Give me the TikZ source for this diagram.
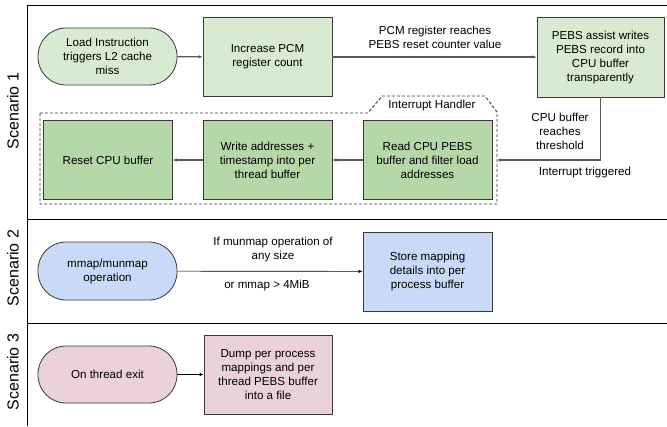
\documentclass[tikz,border=0pt]{standalone}
\usepackage{fontspec}
\setmainfont{Liberation Sans}
\usetikzlibrary{arrows.meta,calc}
\definecolor{lgreen}{HTML}{D9EAD3}
\definecolor{dgreen}{HTML}{B6D7A8}
\definecolor{lblue}{HTML}{C9DAF8}
\definecolor{lpink}{HTML}{EAD1DC}
\definecolor{edge}{HTML}{3A3A3A}
\definecolor{conn}{HTML}{595959}
\begin{document}
\begin{tikzpicture}[x=1pt,y=-1pt,
  every node/.style={font=\fontsize{11.6}{14}\selectfont, align=center, inner sep=0pt},
  box/.style={draw=edge, line width=0.8pt, rectangle, minimum width=129, minimum height=79},
  stad/.style={draw=edge, line width=0.8pt, rectangle, rounded corners=28, minimum width=139, minimum height=57},
  grayarr/.style={draw=conn, line width=1.2pt, -{Latex[length=4pt,width=3.5pt]}},
  blackarr/.style={draw=black, line width=0.7pt, -{Latex[length=4pt,width=3.5pt]}},
  frame/.style={draw=black, line width=1pt},
  lane/.style={font=\fontsize{16}{18}\selectfont, rotate=90},
  lbl/.style={font=\fontsize{11.6}{14}\selectfont}
]
\useasboundingbox (0,0) rectangle (667,426);
% frame lines
\draw[frame] (27,5) -- (667,5);
\draw[frame] (27,5) -- (27,426);
\draw[frame] (27,219) -- (667,219);
\draw[frame] (27,323) -- (667,323);
% lane labels
\node[lane] (s1) at (13,111) {Scenario 1};
\node[lane] (s2) at (13,268) {Scenario 2};
\node[lane] (s3) at (13,372) {Scenario 3};

% Interrupt handler container
\draw[draw=edge, line width=0.9pt, dash pattern=on 3pt off 2pt]
  (40,113) -- (368,113) -- (382,96) -- (485,96) -- (497,112) -- (497,204) -- (40,204) -- cycle;
\node[lbl] (ihlabel) at (432,105) {Interrupt Handler};
\coordinate (ihR) at (497,160);

% Scenario 1 nodes
\node[stad, fill=lgreen] (load) at (107.5,56.5) {Load Instruction\\triggers L2 cache\\miss};
\node[box, fill=lgreen] (inc) at (267.5,57) {Increase PCM\\register count};
\node[box, fill=lgreen, minimum width=127, minimum height=80] (pebs) at (600.5,57) {PEBS assist writes\\PEBS record into\\CPU buffer\\transparently};
\node[box, fill=dgreen] (read) at (427.5,160) {Read CPU PEBS\\buffer and filter load\\addresses};
\node[box, fill=dgreen] (write) at (267.5,160) {Write addresses +\\timestamp into per\\thread buffer};
\node[box, fill=dgreen] (reset) at (108,160) {Reset CPU buffer};

\draw[grayarr] (load) -- (inc);
\draw[grayarr] (inc) -- (pebs);
\node[lbl] (l1) at (435,37) {PCM register reaches\\PEBS reset counter value};
\draw[grayarr] (pebs.south) |- (ihR);
\node[lbl] (l2) at (560,131) {CPU buffer\\reaches\\threshold};
\node[lbl] (l3) at (585,172) {Interrupt triggered};
\draw[grayarr] (read) -- (write);
\draw[grayarr] (write) -- (reset);

% Scenario 2
\node[stad, fill=lblue, minimum height=58] (mmap) at (107.5,271) {mmap/munmap\\operation};
\node[box, fill=lblue] (store) at (427.5,271.5) {Store mapping\\details into per\\process buffer};
\draw[blackarr] (mmap) -- (store);
\node[lbl] (l4) at (273,249) {If munmap operation of\\any size};
\node[lbl] (l5) at (267,285) {or mmap > 4MiB};

% Scenario 3
\node[stad, fill=lpink] (exit) at (107.5,374.5) {On thread exit};
\node[box, fill=lpink, minimum width=128] (dump) at (268,374.5) {Dump per process\\mappings and per\\thread PEBS buffer\\into a file};
\draw[blackarr] (exit) -- (dump);
\end{tikzpicture}
\end{document}
